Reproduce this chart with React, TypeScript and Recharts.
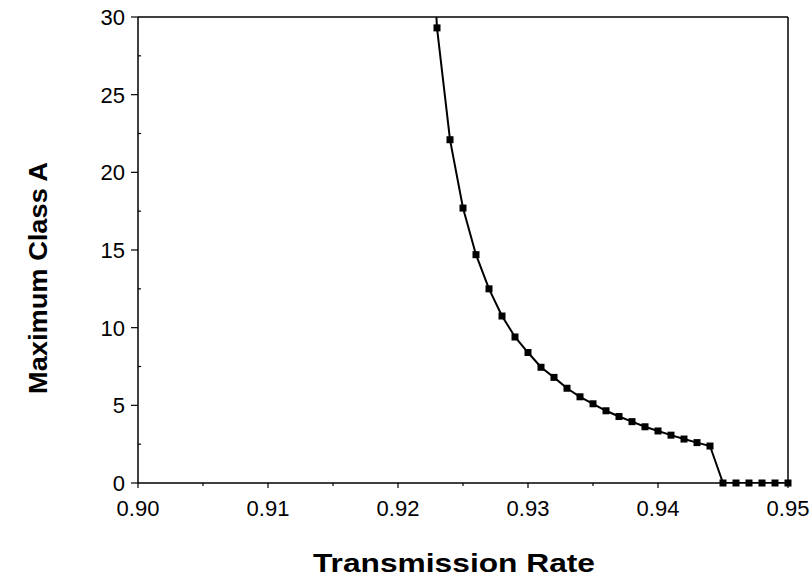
import React from 'react';
import { LineChart, Line, XAxis, YAxis, ReferenceLine } from 'recharts';

// values (the first point lies above the frame and is clipped)
const transmissionRate = [
  0.922, 0.923, 0.924, 0.925, 0.926, 0.927, 0.928, 0.929, 0.93, 0.931, 0.932,
  0.933, 0.934, 0.935, 0.936, 0.937, 0.938, 0.939, 0.94, 0.941, 0.942, 0.943,
  0.944, 0.945, 0.946, 0.947, 0.948, 0.949, 0.95,
];
const maxClassA = [
  45, 29.3, 22.1, 17.7, 14.7, 12.5, 10.75, 9.4, 8.4, 7.45, 6.8,
  6.1, 5.55, 5.1, 4.65, 4.28, 3.95, 3.62, 3.35, 3.08, 2.83, 2.6,
  2.38, 0, 0, 0, 0, 0, 0,
];

const xTicks = [0.9, 0.905, 0.91, 0.915, 0.92, 0.925, 0.93, 0.935, 0.94, 0.945, 0.95];
const xLabels = ['0.90', '', '0.91', '', '0.92', '', '0.93', '', '0.94', '', '0.95'];
const yTicks = [0, 2.5, 5, 7.5, 10, 12.5, 15, 17.5, 20, 22.5, 25, 27.5, 30];
const yLabels = ['0', '', '5', '', '10', '', '15', '', '20', '', '25', '', '30'];

// markers only for points inside the frame, so they are not clipped at the axis
const data = transmissionRate.map((rate, i) => ({
  rate,
  value: maxClassA[i],
  marker: maxClassA[i] <= 30 ? maxClassA[i] : null,
}));

const FONT = '"Liberation Sans", Arial, Helvetica, sans-serif';

const XTick = (props: any) => {
  const { x, y, index } = props;
  const label = xLabels[index];
  return (
    <g>
      <line x1={x} x2={x} y1={y} y2={y + (label ? 5 : 3)} stroke="#000" strokeWidth={1.2} />
      {label && (
        <text x={x} y={y + 33} textAnchor="middle" fontFamily={FONT} fontSize={22} fill="#000">
          {label}
        </text>
      )}
    </g>
  );
};

const YTick = (props: any) => {
  const { x, y, index } = props;
  const label = yLabels[index];
  return (
    <g>
      {label ? (
        <line x1={x} x2={x - 7} y1={y} y2={y} stroke="#000" strokeWidth={1.2} />
      ) : (
        <line x1={x} x2={x + 3} y1={y} y2={y} stroke="#000" strokeWidth={1.2} />
      )}
      {label && (
        <text x={x - 13} y={y + 8} textAnchor="end" fontFamily={FONT} fontSize={22} fill="#000">
          {label}
        </text>
      )}
    </g>
  );
};

const SquareDot = (props: any) => {
  const { cx, cy, index } = props;
  if (cx == null || cy == null) return <g key={index} />;
  return <rect key={index} x={cx - 3.5} y={cy - 3.5} width={7} height={7} fill="#000" />;
};

const XTitle = (props: any) => {
  const { viewBox } = props;
  return (
    <text
      x={viewBox.x + viewBox.width / 2 - 9}
      y={viewBox.y + 89}
      textAnchor="middle"
      fontFamily={FONT}
      fontWeight="bold"
      fontSize={26}
      textLength={282}
      lengthAdjust="spacingAndGlyphs"
      fill="#000"
    >
      Transmission Rate
    </text>
  );
};

const YTitle = (props: any) => {
  const { viewBox } = props;
  const cx = 47;
  const cy = viewBox.y + viewBox.height / 2 + 28;
  return (
    <text
      x={cx}
      y={cy}
      transform={`rotate(-90 ${cx} ${cy})`}
      textAnchor="middle"
      fontFamily={FONT}
      fontWeight="bold"
      fontSize={26}
      textLength={232}
      lengthAdjust="spacingAndGlyphs"
      fill="#000"
    >
      Maximum Class A
    </text>
  );
};

export default function App() {
  return (
    <div style={{ position: 'absolute', left: 0, top: 0, background: '#fff' }}>
      <LineChart
        width={811}
        height={580}
        data={data}
        margin={{ top: 17, right: 23, left: 0, bottom: 67 }}
      >
        <XAxis
          dataKey="rate"
          type="number"
          domain={[0.9, 0.95]}
          ticks={xTicks}
          interval={0}
          tick={<XTick />}
          tickLine={false}
          tickSize={0}
          tickMargin={0}
          axisLine={{ stroke: '#000', strokeWidth: 1.5 }}
          height={30}
          label={<XTitle />}
        />
        <YAxis
          yAxisId="main"
          type="number"
          domain={[0, 30]}
          ticks={yTicks}
          interval={0}
          allowDataOverflow
          tick={<YTick />}
          tickLine={false}
          tickSize={0}
          tickMargin={0}
          axisLine={{ stroke: '#000', strokeWidth: 1.5 }}
          width={138}
          label={<YTitle />}
        />
        <YAxis yAxisId="markers" type="number" domain={[0, 30]} hide />
        <ReferenceLine yAxisId="main" y={30} stroke="#000" strokeWidth={1.5} />
        <ReferenceLine yAxisId="main" x={0.95} stroke="#000" strokeWidth={1.5} />
        <Line
          yAxisId="main"
          dataKey="value"
          type="linear"
          stroke="#000"
          strokeWidth={2}
          dot={false}
          activeDot={false}
          isAnimationActive={false}
        />
        <Line
          yAxisId="markers"
          dataKey="marker"
          type="linear"
          stroke="none"
          dot={<SquareDot />}
          activeDot={false}
          isAnimationActive={false}
        />
      </LineChart>
    </div>
  );
}
